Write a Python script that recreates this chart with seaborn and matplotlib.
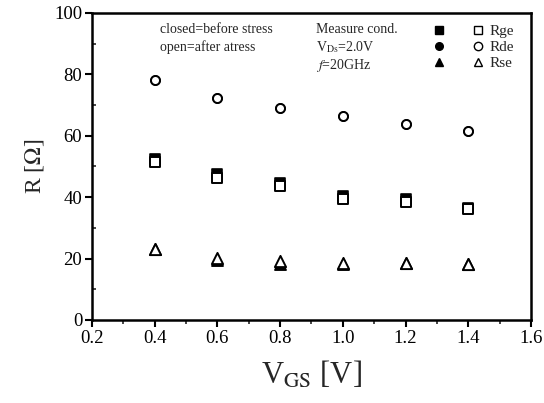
import matplotlib
matplotlib.use("Agg")
import matplotlib.pyplot as plt
import seaborn as sns
import pandas as pd
from matplotlib.legend_handler import HandlerTuple
from matplotlib.lines import Line2D

vgs = [0.4, 0.6, 0.8, 1.0, 1.2, 1.4]
rge_before = [52.5, 47.5, 44.5, 40.5, 39.5, 36.5]
rge_after = [51.3, 46.3, 43.5, 39.3, 38.4, 36.3]
rde_before = [78.3, 72.3, 69.0, 66.5, 63.8, 61.7]
rde_after = [78.3, 72.3, 69.0, 66.5, 63.8, 61.7]
rse_before = [23.0, 19.5, 18.2, 18.2, 18.5, 18.2]
rse_after = [23.0, 20.2, 19.2, 18.7, 18.6, 18.3]

sns.set_theme(style="white")
plt.rcParams['font.family'] = ['Liberation Serif', 'DejaVu Serif']
plt.rcParams['mathtext.fontset'] = 'stix'

fig = plt.figure(figsize=(5.44, 4.03), dpi=100)
ax = fig.add_axes([0.169, 0.206, 0.807, 0.762])

series = [
    ("Rge", rge_before, rge_after, "s", 45),
    ("Rde", rde_before, rde_after, "o", 42),
    ("Rse", rse_before, rse_after, "^", 65),
]
handles = []
labels = []
for name, before, after, mk, size in series:
    df = pd.DataFrame({"VGS": vgs, "before": before, "after": after})
    sns.scatterplot(data=df, x="VGS", y="before", marker=mk, s=size,
                    color="black", edgecolor="black", linewidth=1.2, ax=ax, zorder=3)
    sns.scatterplot(data=df, x="VGS", y="after", marker=mk, s=size,
                    color="white", edgecolor="black", linewidth=1.4, ax=ax, zorder=4)
    h1 = Line2D([], [], marker=mk, color="black", linestyle="none", markersize=5.5)
    h2 = Line2D([], [], marker=mk, markerfacecolor="white", markeredgecolor="black",
                markeredgewidth=1.0, linestyle="none", markersize=6)
    handles.append((h1, h2))
    labels.append(name)

ax.set_xlim(0.2, 1.6)
ax.set_ylim(0, 100)
ax.set_xticks([0.2, 0.4, 0.6, 0.8, 1.0, 1.2, 1.4, 1.6])
ax.set_xticklabels(["0.2", "0.4", "0.6", "0.8", "1.0", "1.2", "1.4", "1.6"])
ax.set_yticks([0, 20, 40, 60, 80, 100])
ax.set_xticks([0.3, 0.5, 0.7, 0.9, 1.1, 1.3, 1.5], minor=True)
ax.set_yticks([10, 30, 50, 70, 90], minor=True)
ax.tick_params(axis="both", which="major", direction="out", length=5, width=1.5,
               labelsize=13.5, colors="black", pad=2, bottom=True, left=True)
ax.tick_params(axis="x", which="minor", direction="out", length=3, width=1.2, bottom=True)
ax.tick_params(axis="y", which="minor", direction="in", length=3, width=1.2, left=True)
for sp in ax.spines.values():
    sp.set_color("black")
    sp.set_linewidth(1.8)

ax.set_xlabel(r"V$_{\rm GS}$ [V]", fontsize=22, labelpad=9)
ax.set_ylabel(r"R [$\Omega$]", fontsize=17, labelpad=6)

fs = 10
ax.text(0.155, 0.945, "closed=before stress", transform=ax.transAxes, fontsize=fs, va="center")
ax.text(0.155, 0.89, "open=after atress", transform=ax.transAxes, fontsize=fs, va="center")
ax.text(0.51, 0.945, "Measure cond.", transform=ax.transAxes, fontsize=fs, va="center")
ax.text(0.51, 0.89, r"V$_{\rm Ds}$=2.0V", transform=ax.transAxes, fontsize=fs, va="center")
ax.text(0.51, 0.83, r"$f$=20GHz", transform=ax.transAxes, fontsize=fs, va="center")

leg = ax.legend(handles, labels, handler_map={tuple: HandlerTuple(ndivide=None, pad=1.6)},
                loc="upper right", bbox_to_anchor=(0.985, 0.997), frameon=False,
                fontsize=11, handlelength=3.6, handletextpad=0.2, labelspacing=0.15,
                borderaxespad=0.3)

fig.savefig("out.png", dpi=100)
